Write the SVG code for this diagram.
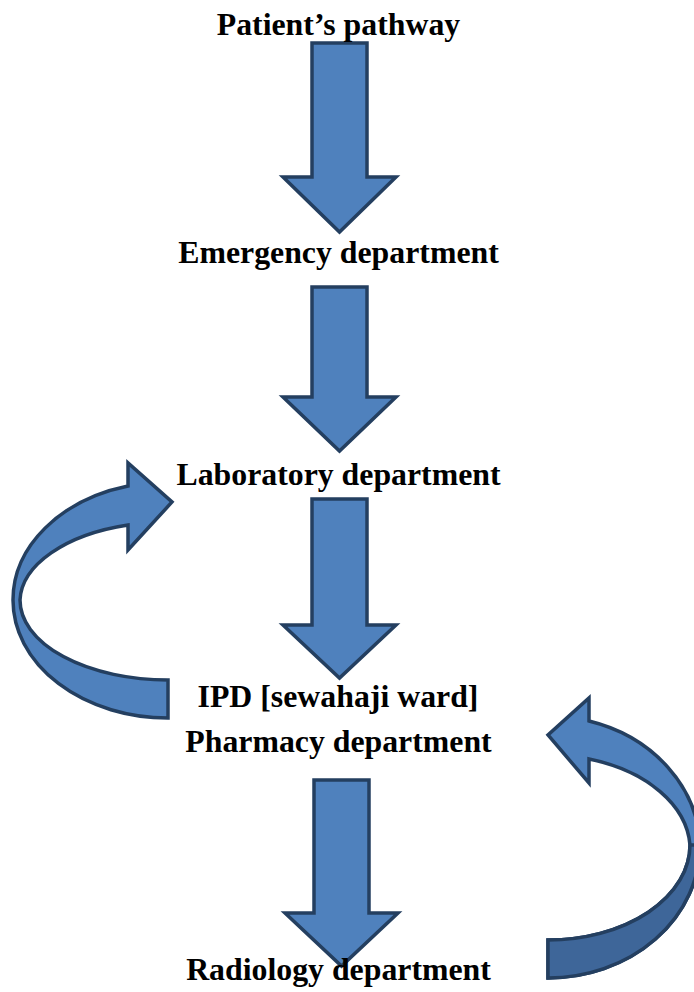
<svg xmlns="http://www.w3.org/2000/svg" width="694" height="992" viewBox="0 0 694 992">
<style>
.lbl{font-family:"Liberation Serif","Times New Roman",serif;font-weight:bold;font-size:31.8px;fill:#000;text-anchor:middle}
.arr{fill:#4F81BD;stroke:#243F60;stroke-width:3.5;stroke-linejoin:miter}
.dark{fill:#3E6699;stroke:#243F60;stroke-width:3.5}
</style>
<rect width="694" height="992" fill="#fff"/>
<g id="connectors">
<path class="arr" d="M312,43 H367 V177 H396 L339.5,232 L283,177 H312 Z"/>
<path class="arr" d="M312,287 H367 V397 H396 L339.5,451 L283,397 H312 Z"/>
<path class="arr" d="M312,499 H367 V625 H396 L339.5,678 L283,625 H312 Z"/>
<path class="arr" d="M314,780 H369 V913 H398 L341.5,966 L285,913 H314 Z"/>
<path class="arr" d="M168,718 A155 118 0 0 1 13,600 A155 118 0 0 1 128,486 L128,463 L172,502 L128,550 L128,525 A148 80 0 0 0 20,600 A148 80 0 0 0 168,680 Z"/>
<path class="arr" d="M548,978 A152 133 0 0 0 700,845 A152 133 0 0 0 589,721 L589,698 L548,735 L589,783 L589,759 A142 95 0 0 1 690,845 A142 95 0 0 1 548,940 Z"/>
<path class="dark" d="M548,978 A152 133 0 0 0 700,845 L690,845 A142 95 0 0 1 548,940 Z"/>
</g>
<g id="n1"><text class="lbl" x="338.5" y="35">Patient’s pathway</text></g>
<g id="n2"><text class="lbl" x="338.5" y="263">Emergency department</text></g>
<g id="n3"><text class="lbl" x="338.5" y="485">Laboratory department</text></g>
<g id="n4"><text class="lbl" x="338" y="707">IPD [sewahaji ward]</text></g>
<g id="n5"><text class="lbl" x="338.5" y="752">Pharmacy department</text></g>
<g id="n6"><text class="lbl" x="338.5" y="980">Radiology department</text></g>
</svg>
